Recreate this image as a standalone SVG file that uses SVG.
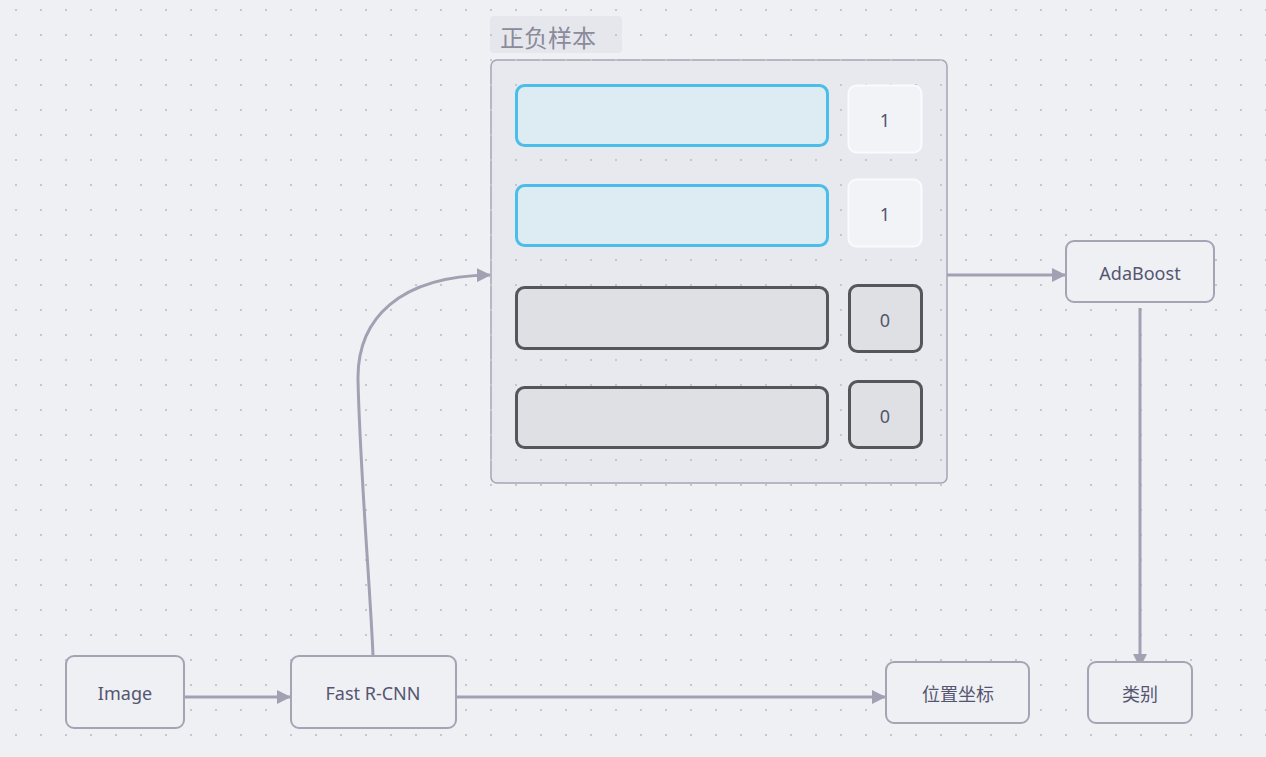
<svg xmlns="http://www.w3.org/2000/svg" width="1266" height="757" viewBox="0 0 1266 757">
<defs>
<pattern id="dots" x="15" y="9" width="25" height="25" patternUnits="userSpaceOnUse">
<rect x="0" y="0" width="2" height="2" fill="#c6c7cd"/>
</pattern>
<marker id="arr" markerWidth="14" markerHeight="14" refX="13" refY="7" orient="auto" markerUnits="userSpaceOnUse">
<path d="M0,0 L14,7 L0,14 Z" fill="#a0a2b3"/>
</marker>
<style>
.node rect{fill:#eff0f4;stroke:#a3a5b5;stroke-width:2}
.lbl{font-family:"Noto Sans","Noto Sans CJK SC",sans-serif;font-size:18px;fill:#545670;text-anchor:middle;dominant-baseline:central}
.conn{fill:none;stroke:#a0a2b3;stroke-width:3}
.blue{fill:#ddebf2;stroke:#4bbde9;stroke-width:3}
.dark{fill:#dfe0e4;stroke:#555659;stroke-width:3}
.white{fill:#f2f3f7;stroke:#fbfbfd;stroke-width:2}
</style>
</defs>
<rect width="1266" height="757" fill="#eff0f4"/>
<g id="container">
<rect x="490" y="16" width="132" height="37" rx="4" fill="#e6e7ec"/>
<text x="500" y="47" font-family="Noto Sans CJK SC,Noto Sans,sans-serif" font-size="24" fill="#8a8b9b">正负样本</text>
<rect x="491" y="60" width="456" height="423" rx="6" fill="#e8e9ee" stroke="#a3a5b5" stroke-width="1.5"/>
</g>
<rect width="1266" height="757" fill="url(#dots)"/>
<g id="samples">
<g id="pos1"><rect class="blue" x="516.5" y="85.5" width="311" height="60" rx="8"/></g>
<g id="pos1-label"><rect class="white" x="848.5" y="85.5" width="73" height="67" rx="8"/><text class="lbl" x="885" y="120">1</text></g>
<g id="pos2"><rect class="blue" x="516.5" y="185.5" width="311" height="60" rx="8"/></g>
<g id="pos2-label"><rect class="white" x="848.5" y="179.5" width="73" height="67" rx="8"/><text class="lbl" x="885" y="214">1</text></g>
<g id="neg1"><rect class="dark" x="516.5" y="287.5" width="311" height="61" rx="8"/></g>
<g id="neg1-label"><rect class="dark" x="849.5" y="285.5" width="72" height="66" rx="8"/><text class="lbl" x="885" y="320">0</text></g>
<g id="neg2"><rect class="dark" x="516.5" y="387.5" width="311" height="60" rx="8"/></g>
<g id="neg2-label"><rect class="dark" x="849.5" y="381.5" width="72" height="66" rx="8"/><text class="lbl" x="885" y="416">0</text></g>
</g>
<g id="connectors">
<path class="conn" d="M185,697 L290,697" marker-end="url(#arr)"/>
<path class="conn" d="M456,697 L885,697" marker-end="url(#arr)"/>
<path class="conn" d="M373,656 C371,600 360,470 358,380 C357,318 400,276 490,275" marker-end="url(#arr)"/>
<path class="conn" d="M947,275 L1065,275" marker-end="url(#arr)"/>
<path class="conn" d="M1140,308 L1140,667" marker-end="url(#arr)"/>
</g>
<g id="image" class="node"><rect x="66" y="656" width="118" height="72" rx="8"/><text class="lbl" x="125" y="693">Image</text></g>
<g id="fastrcnn" class="node"><rect x="291" y="656" width="165" height="72" rx="8"/><text class="lbl" x="373" y="693">Fast R-CNN</text></g>
<g id="adaboost" class="node"><rect x="1066" y="241" width="148" height="61" rx="8"/><text class="lbl" x="1140" y="273">AdaBoost</text></g>
<g id="position" class="node"><rect x="886" y="662" width="143" height="61" rx="8"/><text class="lbl" x="958" y="694">位置坐标</text></g>
<g id="category" class="node"><rect x="1088" y="662" width="104" height="61" rx="8"/><text class="lbl" x="1140" y="694">类别</text></g>
</svg>
